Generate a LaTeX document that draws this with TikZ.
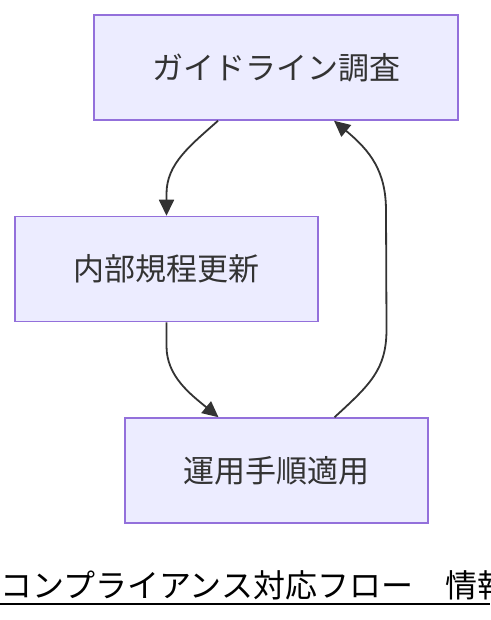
\documentclass[tikz,border=0pt]{standalone}
\usepackage{fontspec}
\setmainfont{Noto Sans CJK JP}
\usetikzlibrary{arrows.meta}
\definecolor{nodefill}{HTML}{ECECFF}
\definecolor{nodeline}{HTML}{9370DB}
\definecolor{ink}{HTML}{333333}
\tikzset{
  flowbox/.style={draw=nodeline, fill=nodefill, line width=1.5pt, minimum width=#1, minimum height=105pt, inner sep=0pt, text=ink, font=\fontsize{31}{36}\selectfont},
  flowedge/.style={draw=ink, line width=1.8pt, -{Triangle[length=16pt,width=15pt]}},
  titletext/.style={anchor=base west, inner sep=0pt, text=black, font=\fontsize{32}{38}\selectfont}
}
\begin{document}
\begin{tikzpicture}[x=1pt,y=-1pt]
\clip (0,0) rectangle (490,620);
\fill[white] (0,0) rectangle (490,620);
\node[flowbox=364pt] (b1) at (276,67.5) {ガイドライン調査};
\node[flowbox=303pt] (b2) at (166.5,269) {内部規程更新};
\node[flowbox=303pt] (b3) at (276.5,470.5) {運用手順適用};
\draw[flowedge] ([xshift=-58pt]b1.south) .. controls +(-28,25) and +(0,-30) .. ([yshift=22pt]b2.north) -- (b2.north);
\draw[flowedge] (b2.south) -- ([yshift=-24pt]b2.south) .. controls +(0,30) and +(-28,-23) .. ([xshift=-58pt]b3.north);
\draw[flowedge] ([xshift=58pt]b3.north) .. controls +(36,-33) and +(0,40) .. ([xshift=110pt,yshift=88pt]b3.north) -- ([xshift=110pt,yshift=-90pt]b1.south) .. controls +(0,-40) and +(36,30) .. ([xshift=58pt]b1.south);
\node[titletext] (title) at (0,597) {コンプライアンス対応フロー　情報};
\draw[line width=2pt] (title.base west) ++(0,7) coordinate (ul) -- ++(490,0);
\end{tikzpicture}
\end{document}
